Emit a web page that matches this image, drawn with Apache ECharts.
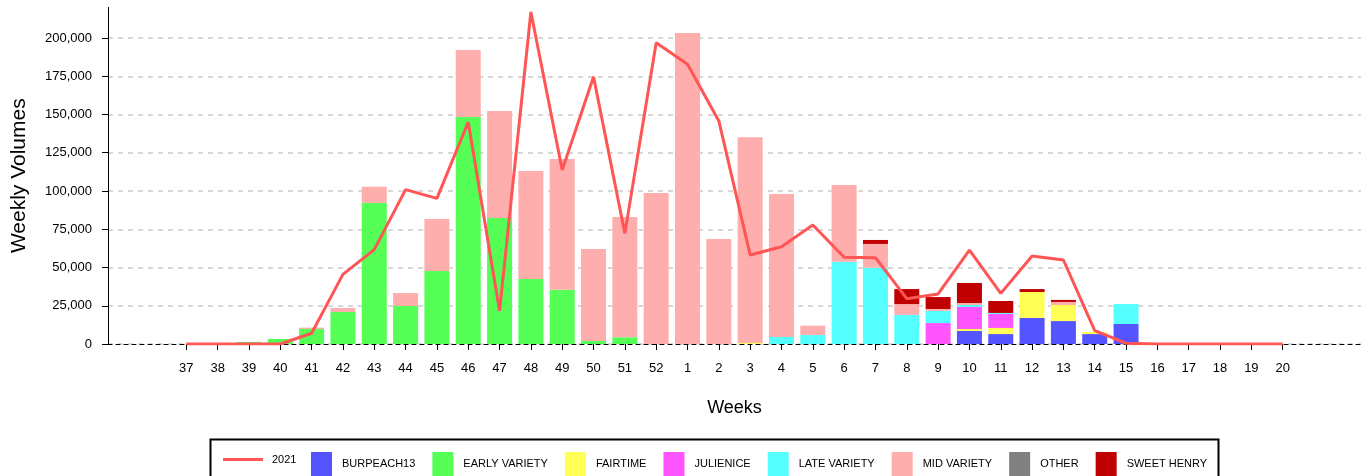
<!DOCTYPE html>
<html>
<head>
<meta charset="utf-8">
<script src="https://cdn.jsdelivr.net/npm/echarts@6/dist/echarts.min.js"></script>
<style>
html,body{margin:0;padding:0;background:#fff;}
#chart{width:1361px;height:476px;}
</style>
</head>
<body>
<div id="chart"></div>
<script>
// Week labels (x axis categories)
const weeks = ['37','38','39','40','41','42','43','44','45','46','47','48','49','50','51','52',
  '1','2','3','4','5','6','7','8','9','10','11','12','13','14','15','16','17','18','19','20'];

// Stacked bar series (one value per week)
const burpeach13   = [0,0,0,0,0,0,0,0,0,0,0,0,0,0,0,0, 0,0,0,0,0,0,0,0,0,8500,6500,17000,15000,6500,13100,0,0,0,0,0];
const earlyVariety = [0,0,1300,3300,9800,20900,92200,24800,47700,148400,82400,42500,35500,2000,4400,0, 0,0,0,0,0,0,0,0,0,0,0,0,0,0,0,0,0,0,0,0];
const fairtime     = [0,0,0,0,0,0,0,0,0,0,0,0,0,0,0,0, 0,0,600,0,0,0,0,0,0,1300,4000,17000,10500,1300,0,0,0,0,0,0];
const julienice    = [0,0,0,0,0,0,0,0,0,0,0,0,0,0,0,0, 0,0,0,0,0,0,0,0,13700,14400,9100,0,0,0,0,0,0,0,0,0];
const lateVariety  = [0,0,0,0,0,0,0,0,0,0,0,0,0,0,0,0, 0,0,0,4600,5900,53800,49900,19000,7900,1300,700,0,0,0,13000,0,0,0,0,0];
const midVariety   = [0,0,0,0,900,2600,10600,8500,34000,43800,69900,70600,85400,60100,78600,98700, 203300,68600,134600,93400,6100,50100,15500,7100,1300,1300,0,0,2000,0,0,0,0,0,0,0];
const other        = [0,0,0,0,0,0,0,0,0,0,0,0,0,0,0,0, 0,0,0,0,0,0,0,0,0,0,0,0,0,0,0,0,0,0,0,0];
const sweetHenry   = [0,0,0,0,0,0,0,0,0,0,0,0,0,0,0,0, 0,0,0,0,0,0,2600,9800,7800,13100,7800,1900,1300,0,0,0,0,0,0,0];

// Line series 2021
const line2021 = [0,0,0,0,7000,45500,61700,100900,95200,145100,21600,217000,113700,174700,72300,196900,
  182800,145800,58200,63600,77800,56700,56400,29600,32700,61400,33100,57500,54900,8700,500,0,0,0,0,0];

// Y axis tick values
const yTicks = [0,25000,50000,75000,100000,125000,150000,175000,200000];

const FONT = 'Liberation Sans, Arial, sans-serif';
const cats = ['_a','_b', ...weeks, '_c','_d'];
const pad = arr => [null, null, ...arr, null, null];
const nz = arr => arr.map(v => (v === 0 ? null : v));

const barDefs = [
  ['BURPEACH13', burpeach13, '#5555FF'],
  ['EARLY VARIETY', earlyVariety, '#55FF55'],
  ['FAIRTIME', fairtime, '#FFFF55'],
  ['JULIENICE', julienice, '#FF55FF'],
  ['LATE VARIETY', lateVariety, '#55FFFF'],
  ['MID VARIETY', midVariety, '#FFAEAE'],
  ['OTHER', other, '#808080'],
  ['SWEET HENRY', sweetHenry, '#C00000']
];

const series = barDefs.map(([name, data, color]) => ({
  name, type: 'bar', stack: 'total', barWidth: 25,
  itemStyle: {color},
  data: pad(nz(data))
}));
series.push({
  name: '2021', type: 'line', symbol: 'none', showSymbol: false,
  color: '#FF5555',
  lineStyle: {color: '#FF5555', width: 3},
  data: pad(line2021), z: 5
});

const fmt = v => Number(v).toLocaleString('en-US');

const chart = echarts.init(document.getElementById('chart'), null, {renderer: 'canvas'});
chart.setOption({
  animation: false,
  backgroundColor: '#fff',
  grid: {left: 108, right: 0, top: 7.4, bottom: 132, containLabel: false},
  xAxis: {
    type: 'category', data: cats, boundaryGap: true,
    axisLine: {show: true, onZero: true, lineStyle: {color: '#000', type: [4, 4], width: 1}},
    axisTick: {show: true, alignWithLabel: true, length: 6,
      interval: (i, v) => !String(v).startsWith('_'),
      lineStyle: {color: '#000', width: 1}},
    axisLabel: {interval: 0, color: '#000', fontSize: 13, fontFamily: FONT, margin: 18,
      formatter: v => (String(v).startsWith('_') ? '' : v)},
    splitLine: {show: false},
    name: 'Weeks', nameLocation: 'middle', nameGap: 55,
    nameTextStyle: {color: '#000', fontSize: 18, fontFamily: FONT}
  },
  yAxis: {
    type: 'value', min: 0, max: 220000, interval: 25000,
    axisLine: {show: true, lineStyle: {color: '#000', width: 1}},
    axisTick: {show: true, length: 6, customValues: yTicks, lineStyle: {color: '#000'}},
    axisLabel: {color: '#000', fontSize: 13, fontFamily: FONT, margin: 16,
      customValues: yTicks, formatter: fmt},
    splitLine: {show: true, lineStyle: {color: '#cccccc', type: [5, 5], width: 1.5}},
    name: 'Weekly Volumes', nameLocation: 'middle', nameGap: 78,
    nameTextStyle: {color: '#000', fontSize: 21, fontFamily: FONT}
  },
  legend: [
    {
      data: [{name: '2021', icon: 'rect'}], left: 218, top: 449, itemWidth: 40, itemHeight: 3,
      textStyle: {color: '#000', fontSize: 11, fontFamily: FONT, padding: [0, 0, 0, 4]},
      selectedMode: false
    },
    {
      data: barDefs.map(d => d[0]), left: 306, top: 447, icon: 'rect',
      itemWidth: 21, itemHeight: 24, itemGap: 17,
      textStyle: {color: '#000', fontSize: 11, fontFamily: FONT, padding: [0, 0, 0, 5]},
      selectedMode: false
    }
  ],
  graphic: [{
    type: 'rect', left: 208, top: 437,
    shape: {width: 1008, height: 60},
    style: {fill: 'none', stroke: '#000', lineWidth: 2},
    silent: true, z: 10
  }],
  series
});
</script>
</body>
</html>
